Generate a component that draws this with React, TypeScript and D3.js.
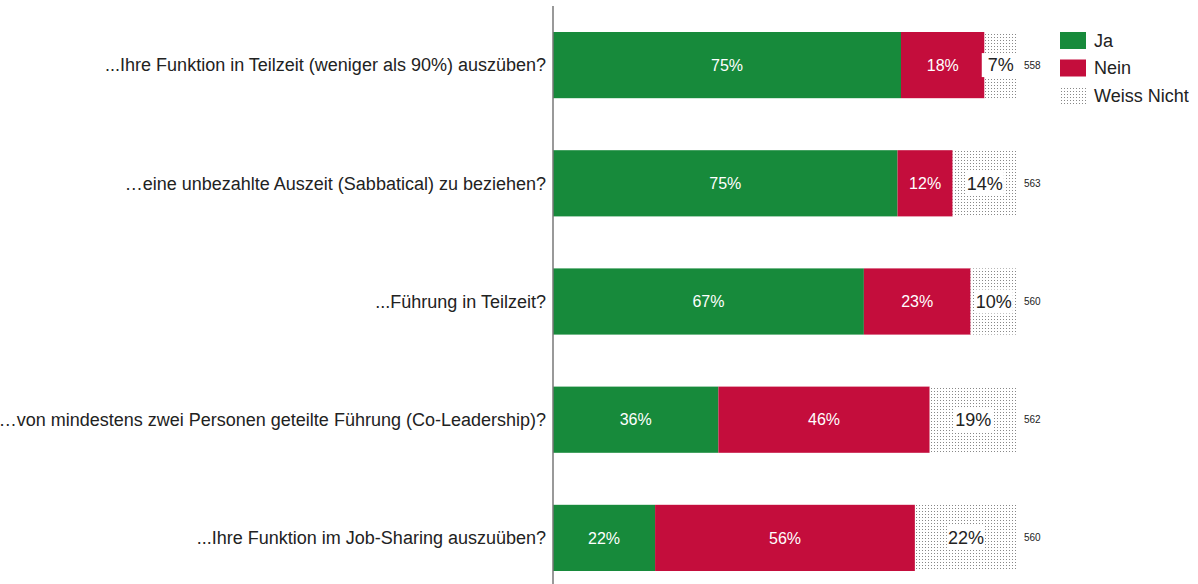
import React, { useEffect, useRef } from 'react';
import * as d3 from 'd3';

const questions = [
  '...Ihre Funktion in Teilzeit (weniger als 90%) auszüben?',
  '…eine unbezahlte Auszeit (Sabbatical) zu beziehen?',
  '...Führung in Teilzeit?',
  '…von mindestens zwei Personen geteilte Führung (Co-Leadership)?',
  '...Ihre Funktion im Job-Sharing auszuüben?',
];
const ja = [75, 75, 67, 36, 22];
const nein = [18, 12, 23, 46, 56];
const weissNicht = [7, 14, 10, 19, 22];
const counts = [558, 563, 560, 562, 560];
const seriesKeys = ['Ja', 'Nein', 'Weiss Nicht'];
const seriesColors = ['#178a3b', '#c40d3c', 'url(#dots)'];

const App = () => {
  const ref = useRef<SVGSVGElement>(null);

  useEffect(() => {
    const svg = d3.select(ref.current);
    svg.selectAll('*').remove();
    const height = 584;
    const left = 553;
    const right = 1017;
    const font = 'Liberation Sans, Arial, sans-serif';

    const rows = questions.map((q, i) => ({ q, Ja: ja[i], Nein: nein[i], 'Weiss Nicht': weissNicht[i], n: counts[i] }));

    const defs = svg.append('defs');
    const pat = defs.append('pattern')
      .attr('id', 'dots')
      .attr('width', 3).attr('height', 3)
      .attr('patternUnits', 'userSpaceOnUse');
    pat.append('rect').attr('width', 3).attr('height', 3).attr('fill', '#fff');
    pat.append('rect').attr('x', 1).attr('y', 1).attr('width', 1).attr('height', 1).attr('fill', '#888');

    const stack = d3.stack<any>().keys(seriesKeys).offset(d3.stackOffsetExpand);
    const series = stack(rows);

    const x = d3.scaleLinear().domain([0, 1]).range([left, right]);
    const y = d3.scaleBand().domain(questions).range([6, 597]).paddingInner(0.44).paddingOuter(0.22);

    const g = svg.append('g');
    series.forEach((s, si) => {
      const grp = g.append('g');
      grp.selectAll('rect')
        .data(s)
        .join('rect')
        .attr('x', d => x(d[0]))
        .attr('y', d => y(d.data.q)!)
        .attr('width', d => x(d[1]) - x(d[0]))
        .attr('height', y.bandwidth())
        .attr('fill', seriesColors[si]);

      const lbl = grp.selectAll('g.lbl')
        .data(s)
        .join('g')
        .attr('class', 'lbl')
        .attr('transform', d => `translate(${(x(d[0]) + x(d[1])) / 2},${y(d.data.q)! + y.bandwidth() / 2})`);
      if (si === 2) {
        lbl.append('rect')
          .attr('x', -19).attr('y', -12).attr('width', 38).attr('height', 24)
          .attr('fill', '#fff');
      }
      lbl.append('text')
        .attr('text-anchor', 'middle')
        .attr('dy', '0.35em')
        .attr('font-family', font)
        .attr('font-size', si === 2 ? 18 : 16)
        .attr('fill', si === 2 ? '#222' : '#fff')
        .text(d => `${d.data[seriesKeys[si]]}%`);
    });

    g.selectAll('text.q')
      .data(rows)
      .join('text')
      .attr('class', 'q')
      .attr('x', left - 7)
      .attr('y', d => y(d.q)! + y.bandwidth() / 2)
      .attr('dy', '0.35em')
      .attr('text-anchor', 'end')
      .attr('font-family', font)
      .attr('font-size', 18)
      .attr('fill', '#222')
      .text(d => d.q);

    g.selectAll('text.n')
      .data(rows)
      .join('text')
      .attr('class', 'n')
      .attr('x', right + 7)
      .attr('y', d => y(d.q)! + y.bandwidth() / 2)
      .attr('dy', '0.35em')
      .attr('font-family', font)
      .attr('font-size', 10)
      .attr('fill', '#222')
      .text(d => d.n);

    svg.append('line')
      .attr('x1', left).attr('x2', left)
      .attr('y1', 6).attr('y2', height)
      .attr('stroke', '#777').attr('stroke-width', 1.5);

    const legend = svg.append('g').attr('transform', 'translate(1060,32)');
    seriesKeys.forEach((k, i) => {
      const item = legend.append('g').attr('transform', `translate(0,${i * 27.5})`);
      item.append('rect').attr('width', 26).attr('height', 17).attr('fill', seriesColors[i]);
      item.append('text')
        .attr('x', 34).attr('y', 8.5).attr('dy', '0.35em')
        .attr('font-family', font).attr('font-size', 18).attr('fill', '#222')
        .text(k);
    });
  }, []);

  return <svg ref={ref} width={1198} height={584} style={{ position: 'absolute', left: 0, top: 0, background: '#fff' }} />;
};

export default App;
